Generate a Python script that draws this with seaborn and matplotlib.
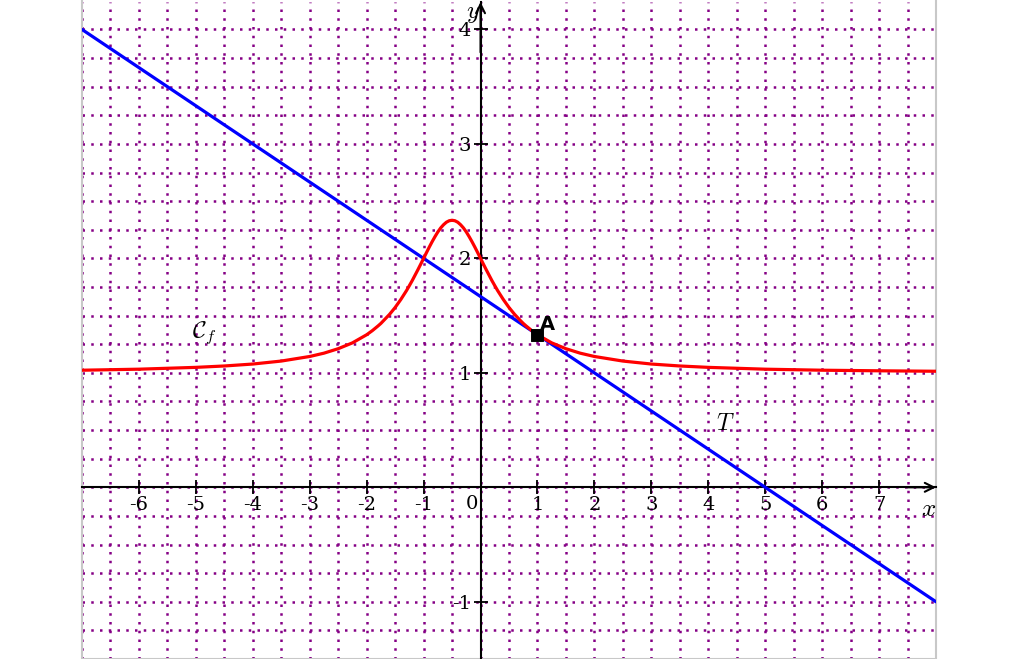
import pandas as pd
import seaborn as sns
import matplotlib.pyplot as plt
from matplotlib.patches import Rectangle
from matplotlib.ticker import MultipleLocator, FixedLocator

# curve C_f
cf_x = [-7, -6, -5, -4.5, -4, -3.5, -3, -2.75, -2.5, -2.25, -2, -1.9, -1.8, -1.75, -1.6,
        -1.5, -1.4, -1.3, -1.25, -1.2, -1.1, -1.05, -1, -0.95, -0.9, -0.85, -0.8, -0.75,
        -0.7, -0.65, -0.6, -0.55, -0.5, -0.45, -0.4, -0.35, -0.3, -0.25, -0.2, -0.15,
        -0.1, -0.05, 0, 0.05, 0.1, 0.2, 0.25, 0.3, 0.4, 0.5, 0.6, 0.7, 0.75, 0.8, 0.9, 1,
        1.25, 1.5, 1.75, 2, 2.5, 3, 3.5, 4, 5, 6, 7, 8]
cf_y = [1.023, 1.032, 1.048, 1.060, 1.077, 1.103, 1.143, 1.172, 1.211, 1.262, 1.333, 1.369,
        1.410, 1.432, 1.510, 1.571, 1.641, 1.719, 1.762, 1.806, 1.901, 1.950, 2.0, 2.050,
        2.099, 2.146, 2.190, 2.231, 2.266, 2.294, 2.316, 2.329, 2.333, 2.329, 2.316, 2.294,
        2.266, 2.231, 2.190, 2.146, 2.099, 2.050, 2.0, 1.950, 1.901, 1.806, 1.762, 1.719,
        1.641, 1.571, 1.510, 1.457, 1.432, 1.410, 1.369, 1.333, 1.262, 1.211, 1.172, 1.143,
        1.103, 1.077, 1.060, 1.048, 1.032, 1.023, 1.018, 1.014]

# tangent T
t_x = [-7, 8]
t_y = [4, -1]

# point A
a_x = [1]
a_y = [4 / 3]

x_ticks = [-6, -5, -4, -3, -2, -1, 1, 2, 3, 4, 5, 6, 7]
y_ticks = [-1, 1, 2, 3, 4]

sns.set_style("white")
plt.rcParams['font.family'] = ['DejaVu Serif']
plt.rcParams['mathtext.fontset'] = 'cm'
plt.rcParams['text.color'] = 'black'

fig = plt.figure(figsize=(10.24, 6.59), dpi=100)
ax = fig.add_axes([82 / 1024, 0, (936 - 82) / 1024, 657 / 659])

cf = pd.DataFrame({"x": cf_x, "y": cf_y})
tg = pd.DataFrame({"x": t_x, "y": t_y})
sns.lineplot(data=cf, x="x", y="y", color="red", lw=2.3, ax=ax, zorder=4, sort=False)
sns.lineplot(data=tg, x="x", y="y", color="blue", lw=2.3, ax=ax, zorder=3)
sns.scatterplot(x=a_x, y=a_y, marker="s", s=70, color="black", ax=ax, zorder=6,
                edgecolor="black")

ax.set_xlim(-7, 8)
ax.set_ylim(-1.5, 4.24)
ax.set_xlabel("")
ax.set_ylabel("")

# grid
ax.xaxis.set_major_locator(FixedLocator(x_ticks))
ax.yaxis.set_major_locator(FixedLocator(y_ticks))
ax.xaxis.set_minor_locator(MultipleLocator(0.5))
ax.yaxis.set_minor_locator(MultipleLocator(0.25))
ax.grid(which="both", color="#850085", linestyle=(0, (1, 2.5)), lw=1.8)
ax.set_axisbelow(True)

# axes through origin
for side in ["top", "right"]:
    ax.spines[side].set_visible(False)
for side in ["left", "bottom"]:
    ax.spines[side].set_position(("data", 0))
    ax.spines[side].set_color("black")
    ax.spines[side].set_linewidth(1.5)
    ax.spines[side].set_zorder(2)
ax.tick_params(which="major", direction="inout", length=10, width=1.3, color="black",
               labelsize=14, labelcolor="black", bottom=True, left=True)
ax.tick_params(which="minor", length=0)
ax.set_xticklabels([str(v) for v in x_ticks])
ax.set_yticklabels([str(v) for v in y_ticks])
ax.tick_params(axis="x", pad=1)
ax.tick_params(axis="y", pad=2)
ax.text(-0.05, -0.07, "0", ha="right", va="top", fontsize=14)

arrow = dict(arrowstyle="->", color="black", lw=1.5, mutation_scale=16, shrinkA=0, shrinkB=0)
ax.annotate("", xy=(8.0, 0), xytext=(7.5, 0), arrowprops=arrow)
ax.annotate("", xy=(0, 4.24), xytext=(0, 3.8), arrowprops=arrow)

# gray frame
ax.add_patch(Rectangle((0, 0), 1, 1.01, transform=ax.transAxes, fill=False,
                       edgecolor="#c8c8c8", lw=1.5, clip_on=False, zorder=1))

ax.text(7.87, -0.19, "$x$", fontsize=18, ha="center", va="center")
ax.text(-0.13, 4.14, "$y$", fontsize=18, ha="center", va="center")
ax.text(-4.86, 1.35, r"$\mathcal{C}_f$", fontsize=17, ha="center", va="center")
ax.text(4.3, 0.56, "$T$", fontsize=17, ha="center", va="center")
ax.text(1.17, 1.42, "A", fontsize=14, fontweight="bold", family="DejaVu Sans",
        ha="center", va="center")

fig.savefig("out.png", dpi=100)
